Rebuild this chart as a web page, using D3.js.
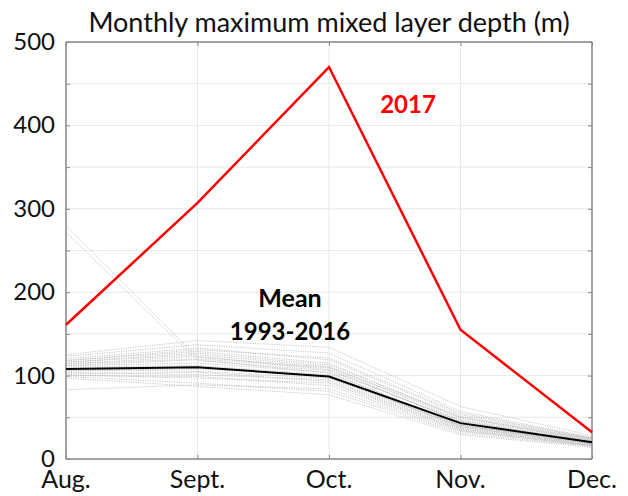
<!DOCTYPE html>
<html>
<head>
<meta charset="utf-8">
<script src="https://cdn.jsdelivr.net/npm/d3@7"></script>
<style>
  html, body { margin: 0; padding: 0; background: #fff; }
  svg { display: block; font-family: Lato, "Noto Sans", sans-serif; }
</style>
</head>
<body>
<svg id="chart" width="628" height="496"></svg>
<script>
// Months on the x axis
const months = ["Aug.", "Sept.", "Oct.", "Nov.", "Dec."];

// Y axis ticks (m)
const yLabelTicks = [0, 100, 200, 300, 400, 500];
const yGridTicks = [0, 50, 100, 150, 200, 250, 300, 350, 400, 450, 500];

// Maximum mixed layer depth for 2017 (m)
const depth2017 = [161, 307, 470, 155, 32];

// Mean over 1993-2016 (m)
const depthMean = [108, 110, 99, 43, 20];

// Individual years 1993-2016 (m), Aug..Dec
const yearly = [
  [280, 122, 110, 50, 22],
  [272, 118, 106, 46, 20],
  [125, 142, 134, 63, 28],
  [123, 137, 127, 57, 26],
  [120, 133, 119, 53, 25],
  [118, 129, 115, 49, 24],
  [116, 125, 111, 47, 23],
  [114, 123, 107, 45, 22],
  [112, 119, 103, 42, 21],
  [112, 115, 104, 40, 20],
  [110, 112, 101, 41, 19],
  [108, 105, 97, 39, 18],
  [104, 101, 95, 37, 18],
  [101, 97, 91, 35, 17],
  [99, 91, 81, 31, 15],
  [97, 87, 77, 29, 14],
  [83, 89, 84, 33, 16],
  [114, 120, 109, 44, 21],
  [106, 108, 100, 38, 19],
  [102, 104, 93, 36, 17],
  [116, 127, 113, 51, 24],
  [100, 99, 88, 34, 16],
  [118, 131, 121, 55, 25],
  [105, 110, 98, 40, 20]
];

const svg = d3.select("#chart");
const plotL = 66, plotR = 592, plotT = 42, plotB = 459;

const x = d3.scalePoint().domain(months).range([plotL, plotR]);
const y = d3.scaleLinear().domain([0, 500]).range([plotB, plotT]);

// Grid
const grid = svg.append("g");
grid.selectAll("line.h").data(yGridTicks).join("line")
  .attr("class", "h")
  .attr("x1", plotL).attr("x2", plotR)
  .attr("y1", d => y(d)).attr("y2", d => y(d))
  .attr("stroke", "#e8e8e8").attr("stroke-width", 1);
grid.selectAll("line.v").data(months).join("line")
  .attr("class", "v")
  .attr("x1", d => x(d)).attr("x2", d => x(d))
  .attr("y1", plotT).attr("y2", plotB)
  .attr("stroke", "#e8e8e8").attr("stroke-width", 1);

// Axes with inward ticks
const tickColor = "#888";
const yAxisL = svg.append("g").attr("transform", `translate(${plotL},0)`)
  .call(d3.axisLeft(y).tickValues(yGridTicks).tickSize(-4).tickFormat(""));
const yAxisR = svg.append("g").attr("transform", `translate(${plotR},0)`)
  .call(d3.axisRight(y).tickValues(yGridTicks).tickSize(-4).tickFormat(""));
const xAxisB = svg.append("g").attr("transform", `translate(0,${plotB})`)
  .call(d3.axisBottom(x).tickSize(-4).tickFormat(""));
const xAxisT = svg.append("g").attr("transform", `translate(0,${plotT})`)
  .call(d3.axisTop(x).tickSize(-4).tickFormat(""));
[yAxisL, yAxisR, xAxisB, xAxisT].forEach(g => {
  g.select(".domain").attr("stroke", tickColor).attr("stroke-width", 1.5);
  g.selectAll(".tick line").attr("stroke", tickColor);
});
yAxisL.select(".domain").attr("d", `M0,${plotT}V${plotB}`);
yAxisR.select(".domain").attr("d", `M0,${plotT}V${plotB}`);
xAxisB.select(".domain").attr("d", `M${plotL},0H${plotR}`);
xAxisT.select(".domain").attr("d", `M${plotL},0H${plotR}`);

// Tick labels
svg.append("g").selectAll("text").data(yLabelTicks).join("text")
  .attr("x", plotL - 11).attr("y", d => y(d))
  .attr("dy", "0.33em")
  .attr("text-anchor", "end")
  .attr("font-size", 24).attr("fill", "#111")
  .text(d => d);
svg.append("g").selectAll("text").data(months).join("text")
  .attr("x", d => x(d)).attr("y", 488)
  .attr("text-anchor", "middle")
  .attr("font-size", 25).attr("fill", "#111")
  .text(d => d);

const line = d3.line().x((d, i) => x(months[i])).y(d => y(d));

// Individual years
svg.append("g").selectAll("path").data(yearly).join("path")
  .attr("d", line)
  .attr("fill", "none")
  .attr("stroke", "#a0a0a0")
  .attr("stroke-width", 1)
  .attr("stroke-dasharray", "1.2,1.2")
  .attr("opacity", 0.6);

// Mean
svg.append("path").datum(depthMean)
  .attr("d", line).attr("fill", "none")
  .attr("stroke", "#000").attr("stroke-width", 2);

// 2017
svg.append("path").datum(depth2017)
  .attr("d", line).attr("fill", "none")
  .attr("stroke", "#ff0000").attr("stroke-width", 2.5)
  .attr("stroke-linejoin", "miter");

// Annotations
svg.append("text").attr("x", 408).attr("y", 113)
  .attr("text-anchor", "middle").attr("font-size", 24).attr("font-weight", "bold")
  .attr("fill", "#ff0000").text("2017");
svg.append("text").attr("x", 290).attr("y", 307)
  .attr("text-anchor", "middle").attr("font-size", 25).attr("font-weight", "bold")
  .attr("fill", "#000").text("Mean");
svg.append("text").attr("x", 290).attr("y", 340)
  .attr("text-anchor", "middle").attr("font-size", 24).attr("font-weight", "bold")
  .attr("fill", "#000").text("1993-2016");

// Title
svg.append("text").attr("x", 329).attr("y", 32)
  .attr("text-anchor", "middle").attr("font-size", 27).attr("fill", "#111")
  .text("Monthly maximum mixed layer depth (m)");
</script>
</body>
</html>
